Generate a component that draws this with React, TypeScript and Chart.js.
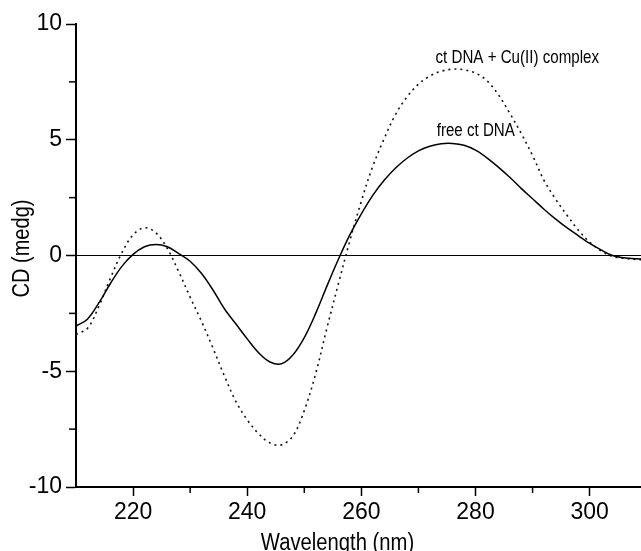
import React, { useEffect, useRef } from "react";
import { Chart, registerables } from "chart.js";

Chart.register(...registerables);

const wavelengths = [
  210, 212, 214, 216, 218, 220, 222, 224, 226, 228, 230, 232, 234, 236, 238, 240,
  242, 244, 246, 248, 250, 252, 254, 256, 258, 260, 262, 264, 266, 268, 270, 272,
  274, 276, 278, 280, 282, 284, 286, 288, 290, 292, 294, 296, 298, 300, 302, 304,
  306, 308, 310,
];

const freeDNA = [
  -3.05, -2.75, -2.05, -1.22, -0.48, 0.05, 0.38, 0.48, 0.38, 0.08, -0.25, -0.78,
  -1.49, -2.3, -2.95, -3.6, -4.2, -4.6, -4.68, -4.3, -3.55, -2.5, -1.3, -0.15,
  0.9, 1.8, 2.6, 3.25, 3.78, 4.2, 4.52, 4.72, 4.83, 4.84, 4.76, 4.55, 4.22, 3.82,
  3.38, 2.9, 2.45, 2.0, 1.58, 1.2, 0.86, 0.52, 0.24, 0.0, -0.1, -0.14, -0.15,
];

const complexDNA = [
  -3.4, -3.15, -2.2, -1.0, 0.1, 0.89, 1.2, 0.98, 0.3, -0.7, -1.8, -2.85, -4.0,
  -5.2, -6.3, -7.1, -7.7, -8.1, -8.18, -7.8, -6.7, -5.1, -3.1, -1.2, 0.65, 2.35,
  3.85, 5.05, 6.1, 6.85, 7.4, 7.75, 7.96, 8.05, 8.02, 7.88, 7.55, 6.95, 6.15,
  5.28, 4.32, 3.25, 2.45, 1.75, 1.1, 0.58, 0.2, -0.04, -0.12, -0.17, -0.18,
];

const xTicks = [220, 240, 260, 280, 300];
const xMinorTicks = [230, 250, 270, 290];
const yTicks = [-10, -5, 0, 5, 10];
const yMinorTicks = [-7.5, -2.5, 2.5, 7.5];

const xTitle = "Wavelength (nm)";
const yTitle = "CD (medg)";

const annotLabels = ["ct DNA + Cu(II) complex", "free ct DNA"];
const annotX = [273.0, 273.2];
const annotY = [8.52, 5.36];

const FONT = "'Liberation Sans', Arial, Helvetica, sans-serif";

function drawScaledText(
  ctx: CanvasRenderingContext2D,
  text: string,
  x: number,
  y: number,
  size: number,
  sx: number,
  align: CanvasTextAlign,
  baseline: CanvasTextBaseline,
  rotate = 0
) {
  ctx.save();
  ctx.translate(x, y);
  if (rotate) ctx.rotate(rotate);
  ctx.scale(sx, 1);
  ctx.font = `${size}px ${FONT}`;
  ctx.fillStyle = "#000";
  ctx.textAlign = align;
  ctx.textBaseline = baseline;
  ctx.fillText(text, 0, 0);
  ctx.restore();
}

export default function App() {
  const ref = useRef<HTMLCanvasElement>(null);

  useEffect(() => {
    const canvas = ref.current;
    if (!canvas) return;

    const extras = {
      id: "extras",
      afterDraw(chart: any) {
        const ctx: CanvasRenderingContext2D = chart.ctx;
        const xs = chart.scales.x;
        const ys = chart.scales.y;
        const area = chart.chartArea;
        ctx.save();
        ctx.strokeStyle = "#000";
        ctx.lineWidth = 1.5;
        xMinorTicks.forEach((v) => {
          const px = xs.getPixelForValue(v);
          ctx.beginPath();
          ctx.moveTo(px, area.bottom);
          ctx.lineTo(px, area.bottom + 6);
          ctx.stroke();
        });
        yMinorTicks.forEach((v) => {
          const py = ys.getPixelForValue(v);
          ctx.beginPath();
          ctx.moveTo(area.left, py);
          ctx.lineTo(area.left - 7, py);
          ctx.stroke();
        });
        ctx.restore();

        annotLabels.forEach((t, i) => {
          drawScaledText(
            ctx,
            t,
            xs.getPixelForValue(annotX[i]),
            ys.getPixelForValue(annotY[i]),
            18,
            0.84,
            "left",
            "middle"
          );
        });

        drawScaledText(
          ctx,
          xTitle,
          (area.left + area.right) / 2 - 21,
          549.5,
          23,
          0.88,
          "center",
          "alphabetic"
        );
        drawScaledText(
          ctx,
          yTitle,
          23,
          (area.top + area.bottom) / 2 - 7,
          23,
          0.87,
          "center",
          "middle",
          -Math.PI / 2
        );
      },
    };

    const chart = new Chart(canvas, {
      type: "line",
      data: {
        datasets: [
          {
            label: "free ct DNA",
            data: wavelengths.map((w, i) => ({ x: w, y: freeDNA[i] })),
            borderColor: "#000",
            borderWidth: 1.5,
            pointRadius: 0,
            tension: 0.35,
            fill: false,
          },
          {
            label: "ct DNA + Cu(II) complex",
            data: wavelengths.map((w, i) => ({ x: w, y: complexDNA[i] })),
            borderColor: "#111",
            borderWidth: 1.6,
            borderDash: [2, 4],
            pointRadius: 0,
            tension: 0.35,
            fill: false,
          },
        ],
      },
      options: {
        responsive: false,
        animation: false,
        layout: { padding: { top: 24, right: 0, left: 0, bottom: 0 } },
        plugins: {
          legend: { display: false },
          tooltip: { enabled: false },
        },
        scales: {
          x: {
            type: "linear",
            min: 210,
            max: 309,
            afterBuildTicks: (s: any) => {
              s.ticks = xTicks.map((v) => ({ value: v }));
            },
            afterFit: (s: any) => {
              s.height = 64;
            },
            grid: {
              drawOnChartArea: false,
              tickLength: 9,
              tickColor: "#000",
              tickWidth: 1.5,
            },
            border: { color: "#000", width: 2 },
            ticks: {
              color: "#000",
              font: { family: FONT, size: 23 },
              padding: 3,
              maxRotation: 0,
              autoSkip: false,
            },
          },
          y: {
            type: "linear",
            min: -10,
            max: 10,
            afterBuildTicks: (s: any) => {
              s.ticks = yTicks.map((v) => ({ value: v }));
            },
            afterFit: (s: any) => {
              s.width = 76;
            },
            grid: {
              color: (c: any) =>
                c.tick && c.tick.value === 0 ? "#000" : "rgba(0,0,0,0)",
              lineWidth: 1,
              tickLength: 10,
              tickColor: "#000",
              tickWidth: 1.5,
            },
            border: { color: "#000", width: 2 },
            ticks: {
              color: "#000",
              font: { family: FONT, size: 23 },
              padding: 4,
              autoSkip: false,
            },
          },
        },
      },
      plugins: [extras],
    } as any);

    return () => chart.destroy();
  }, []);

  return (
    <div
      style={{
        position: "absolute",
        left: 0,
        top: 0,
        width: 641,
        height: 551,
        background: "#fff",
      }}
    >
      <canvas ref={ref} width={641} height={551} style={{ display: "block" }} />
    </div>
  );
}
